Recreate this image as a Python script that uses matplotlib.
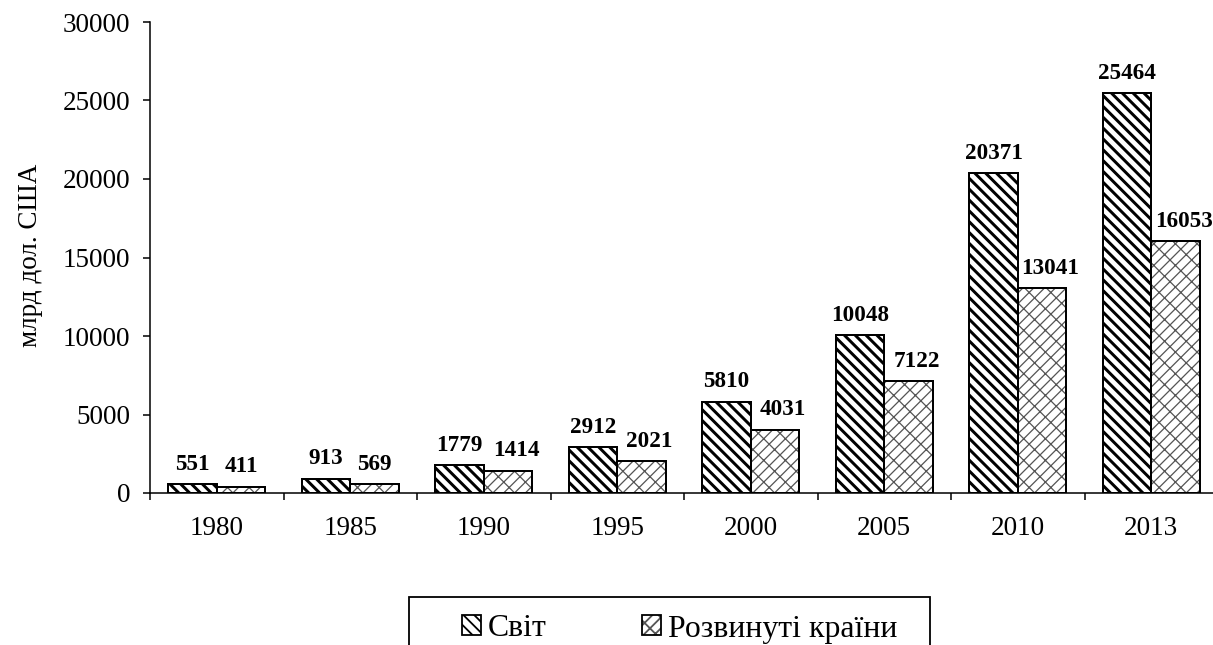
import numpy as np
import matplotlib
matplotlib.use("Agg")
import matplotlib.pyplot as plt
from matplotlib.patches import Patch, Rectangle

years = ["1980", "1985", "1990", "1995", "2000", "2005", "2010", "2013"]
world = [551, 913, 1779, 2912, 5810, 10048, 20371, 25464]
developed = [411, 569, 1414, 2021, 4031, 7122, 13041, 16053]
series_names = ["Світ", "Розвинуті країни"]
y_label = "млрд дол. США"

DPI = 130
W, H = 1213, 645
plt.rcParams["font.family"] = ["Liberation Serif", "DejaVu Serif"]

fig = plt.figure(figsize=(W / DPI, H / DPI), dpi=DPI)
ax = fig.add_axes([150 / W, 1 - 493 / H, (1218 - 150) / W, (493 - 22) / H])

x = np.arange(len(years))
w = 0.363

WORLD_HATCH = "\\\\\\\\"
DEV_HATCH = "//xx"
DEV_GRAY = "#555555"


def hatched_bars(xs, vals, hatch, hcolor, hlw):
    with plt.rc_context({"hatch.linewidth": hlw, "hatch.color": hcolor}):
        bars = ax.bar(xs, vals, w, align="edge", color="white", edgecolor=hcolor,
                      hatch=hatch, linewidth=0)
        for b in bars:
            if hasattr(b, "set_hatch_linewidth"):
                b.set_hatch_linewidth(hlw)
    ax.bar(xs, vals, w, align="edge", fill=False, edgecolor="black", linewidth=1.1)
    return bars


hatched_bars(x - w, world, WORLD_HATCH, "black", 1.65)
hatched_bars(x, developed, DEV_HATCH, DEV_GRAY, 0.7)

# data labels
for i, v in enumerate(world):
    ax.annotate(str(v), (x[i] - w / 2, v), xytext=(0, 8), textcoords="offset points",
                ha="center", va="baseline", fontsize=12.8, fontweight="bold")
for i, v in enumerate(developed):
    dx = 4.5 if i >= 2 else 0
    ax.annotate(str(v), (x[i] + w / 2, v), xytext=(dx, 8), textcoords="offset points",
                ha="center", va="baseline", fontsize=12.8, fontweight="bold",
                annotation_clip=False)

ax.set_xlim(-0.5, len(years) - 0.5)
ax.set_ylim(0, 30000)
ax.set_yticks(np.arange(0, 30001, 5000))
ax.set_xticks(np.arange(len(years) + 1) - 0.5)
ax.set_xticklabels([])
ax.set_xticks(x, minor=True)
ax.set_xticklabels(years, minor=True)

for s in ["top", "right"]:
    ax.spines[s].set_visible(False)
for s in ["left", "bottom"]:
    ax.spines[s].set_linewidth(0.85)
ax.tick_params(axis="y", direction="out", length=3.9, width=0.85, pad=7, labelsize=15)
ax.tick_params(axis="x", which="major", direction="out", length=3.9, width=0.85)
ax.tick_params(axis="x", which="minor", length=0, pad=13, labelsize=15)

fig.text(31 / W, 1 - 255 / H, y_label, rotation=90, ha="center", va="center", fontsize=15)

# legend (frame drawn separately, it runs off the bottom edge)
with plt.rc_context({"hatch.linewidth": 1.4}):
    h1 = Patch(facecolor="white", edgecolor="black", hatch=WORLD_HATCH, linewidth=1.0)
with plt.rc_context({"hatch.linewidth": 0.7}):
    h2a = Patch(facecolor="white", edgecolor=DEV_GRAY, hatch=DEV_HATCH, linewidth=0)
h2b = Patch(fill=False, edgecolor="black", linewidth=1.0)
fig.legend([h1, (h2a, h2b)], series_names, loc="center left",
           bbox_to_anchor=(462 / W, 1 - 629 / H), ncol=2, fontsize=17.6,
           frameon=False, handlelength=0.6, handleheight=0.6, handletextpad=0.22,
           columnspacing=3.0, borderpad=0, borderaxespad=0)
fig.patches.append(Rectangle((409 / W, -0.05), (930 - 409) / W, 0.05 + (H - 597) / H,
                             transform=fig.transFigure, fill=False, edgecolor="black",
                             linewidth=1.0))

fig.savefig("out.png", dpi=DPI)
